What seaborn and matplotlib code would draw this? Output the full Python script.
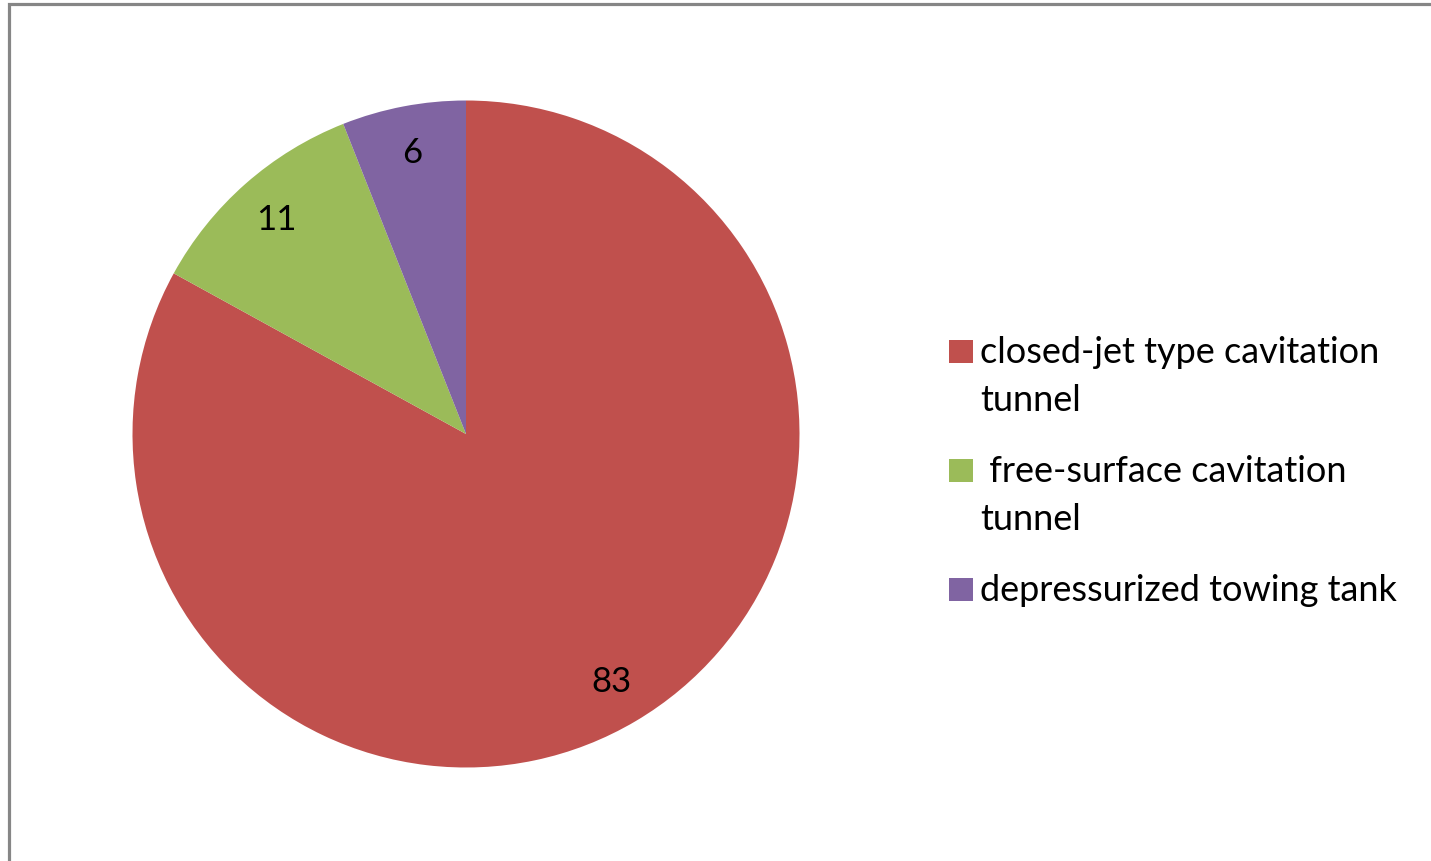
import matplotlib
matplotlib.use("Agg")
import matplotlib.pyplot as plt
import seaborn as sns
from matplotlib.patches import Rectangle

# Facility types and their share counts
categories = ["closed-jet type cavitation\ntunnel",
              " free-surface cavitation\ntunnel",
              "depressurized towing tank"]
values = [83, 11, 6]
colors = ["#C0504D", "#9BBB59", "#8064A2"]

sns.set_theme(style="white")
plt.rcParams["font.family"] = ["Lato", "DejaVu Sans"]

W, H = 1431, 862
fig = plt.figure(figsize=(W / 100, H / 100), dpi=100)
fig.patch.set_facecolor("white")


def fx(px):
    return px / W


def fy(py):
    return 1 - py / H


# Chart frame (gray border, clipped at right/bottom)
fig.add_artist(Rectangle((fx(8.5), -0.1), 1.2, fy(4.5) + 0.1,
                         transform=fig.transFigure, fill=False,
                         edgecolor="#868686", linewidth=2.3))

cx, cy, r = 466, 435, 333.5
ax = fig.add_axes([fx(cx - r), fy(cy + r), 2 * r / W, 2 * r / H])
wedges, texts = ax.pie(values, colors=colors, startangle=90, counterclock=False,
                       labels=[str(v) for v in values], labeldistance=0.86,
                       wedgeprops=dict(linewidth=0),
                       textprops=dict(fontsize=25, color="black"))
for t in texts:
    t.set_ha("center")
    t.set_va("center")
ax.set_xlim(-1, 1)
ax.set_ylim(-1, 1)
ax.set_aspect("equal")
ax.axis("off")

# Legend: square swatch beside the first line of each (possibly wrapped) label
line_gap = 48
entry_gap = 71
baseline = 363
for label, col in zip(categories, colors):
    lines = label.split("\n")
    fig.add_artist(Rectangle((fx(949), fy(baseline + 1)), 24 / W, 23 / H,
                             transform=fig.transFigure, facecolor=col,
                             edgecolor="none"))
    for i, line in enumerate(lines):
        fig.text(fx(980), fy(baseline + i * line_gap), line, ha="left",
                 va="baseline", fontsize=26, color="black")
    baseline += (len(lines) - 1) * line_gap + entry_gap

fig.savefig("out.png", dpi=100, facecolor="white")
